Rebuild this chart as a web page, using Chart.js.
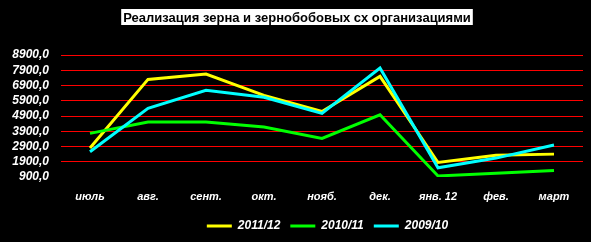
<!DOCTYPE html>
<html>
<head>
<meta charset="utf-8">
<script src="https://cdn.jsdelivr.net/npm/chart.js@4"></script>
<style>
  html, body { margin: 0; padding: 0; background: #000; }
  #wrap { width: 591px; height: 242px; }
</style>
</head>
<body>
<div id="wrap"><canvas id="grainChart"></canvas></div>
<script>
const titleText = "Реализация зерна и зернобобовых сх организациями";
const months = ["июль", "авг.", "сент.", "окт.", "нояб.", "дек.", "янв. 12", "фев.", "март"];
const season1112 = [2800, 7300, 7650, 6250, 5200, 7500, 1850, 2320, 2400];
const season1011 = [3760, 4510, 4500, 4180, 3430, 4980, 970, 1140, 1320];
const season0910 = [2560, 5400, 6580, 6130, 5070, 8050, 1500, 2140, 3000];

// title in a white box, like the original sheet
const boxTitle = {
  id: "boxTitle",
  afterDraw(chart) {
    const c = chart.ctx;
    c.save();
    c.font = "bold 13px 'Liberation Sans', Arial, sans-serif";
    const w = c.measureText(titleText).width;
    const cx = 297, cy = 17;
    c.fillStyle = "#fff";
    c.fillRect(cx - w / 2 - 2, cy - 8, w + 4, 16);
    c.fillStyle = "#000";
    c.textAlign = "center";
    c.textBaseline = "middle";
    c.fillText(titleText, cx, cy + 1);
    c.restore();
  }
};

// legend sits a bit right of center
const shiftLegend = {
  id: "shiftLegend",
  afterLayout(chart) {
    chart.legend.left += 36;
    chart.legend.right += 36;
  }
};

const mkSet = (label, data, color, order) => ({
  label: label,
  data: data,
  borderColor: color,
  backgroundColor: color,
  borderWidth: 3,
  pointRadius: 0,
  tension: 0,
  order: order
});

new Chart(document.getElementById("grainChart"), {
  type: "line",
  data: {
    labels: months,
    datasets: [
      mkSet("2011/12", season1112, "#ffff00", 2),
      mkSet("2010/11", season1011, "#00ff00", 1),
      mkSet("2009/10", season0910, "#00ffff", 0)
    ]
  },
  options: {
    responsive: true,
    maintainAspectRatio: false,
    animation: false,
    layout: { padding: { top: 55, right: 8, left: 0, bottom: 0 } },
    scales: {
      x: {
        offset: true,
        grid: { display: false },
        border: { display: false },
        afterFit: s => { s.height = 33; },
        ticks: {
          color: "#fff",
          padding: 5,
          maxRotation: 0,
          autoSkip: false,
          font: { family: "'Liberation Sans', Arial", size: 11, weight: "bold", style: "italic" }
        }
      },
      y: {
        min: 900,
        max: 8900,
        border: { display: false },
        afterFit: s => { s.width = 61; },
        grid: {
          drawTicks: false,
          color: c => c.tick && c.tick.value === 900 ? "rgba(0,0,0,0)" : "#ff0000",
          lineWidth: 1
        },
        ticks: {
          stepSize: 1000,
          autoSkip: false,
          color: "#fff",
          padding: 12,
          font: { family: "'Liberation Sans', Arial", size: 12, weight: "bold", style: "italic" },
          callback: v => v.toFixed(1).replace(".", ",")
        }
      }
    },
    plugins: {
      title: { display: false },
      tooltip: { enabled: false },
      legend: {
        position: "bottom",
        labels: {
          color: "#fff",
          boxWidth: 25,
          boxHeight: 3,
          padding: 10,
          font: { family: "'Liberation Sans', Arial", size: 12, weight: "bold", style: "italic" },
          sort: (a, b) => a.datasetIndex - b.datasetIndex,
          generateLabels: chart => Chart.defaults.plugins.legend.labels.generateLabels(chart)
            .map(item => Object.assign(item, { lineWidth: 0 }))
        }
      }
    }
  },
  plugins: [boxTitle, shiftLegend]
});
</script>
</body>
</html>
